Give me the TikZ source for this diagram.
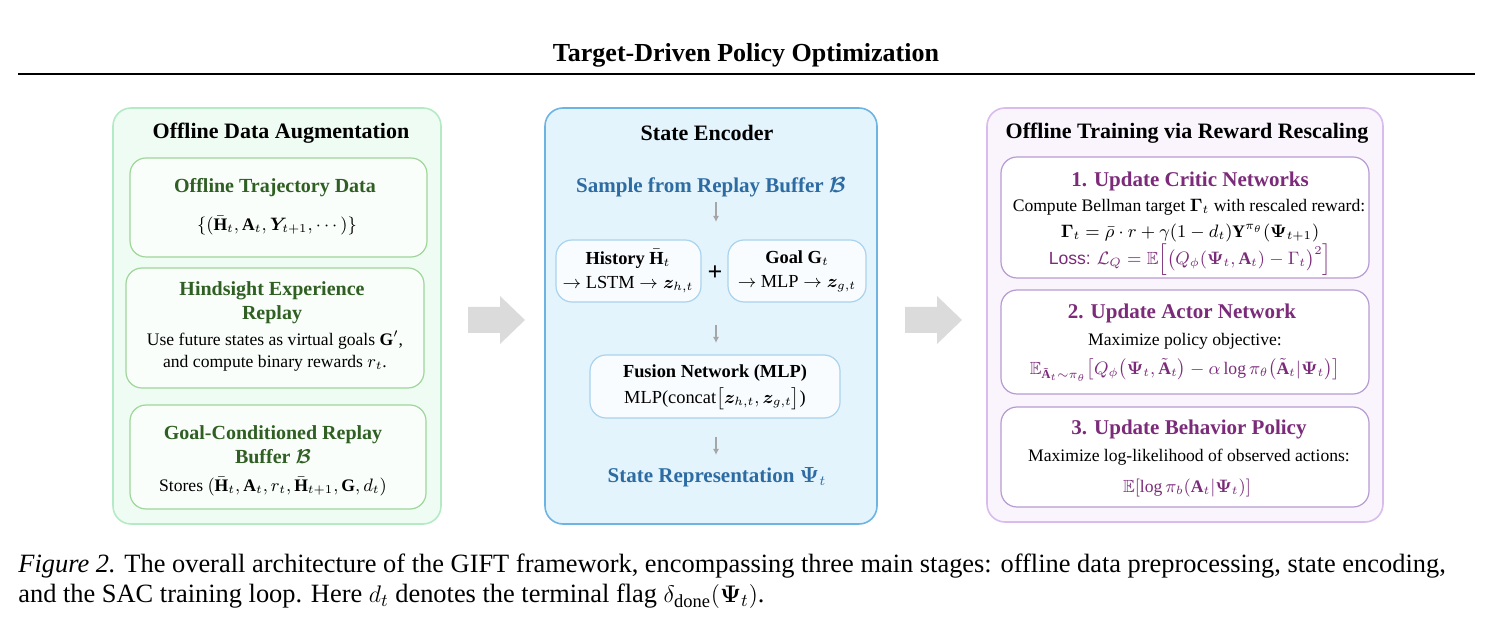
\documentclass[tikz,border=0pt]{standalone}
\usepackage{amsmath,amssymb,bm}
\usepackage{fontspec}
\setmainfont{Liberation Serif}
\newfontfamily\sansf{Liberation Sans}
\usetikzlibrary{shapes.arrows,arrows.meta}
\definecolor{gpfill}{HTML}{EFFCF3}
\definecolor{gpdraw}{HTML}{B5EAC6}
\definecolor{gbdraw}{HTML}{9FD69A}
\definecolor{gtext}{HTML}{2F5F22}
\definecolor{bpfill}{HTML}{E4F4FC}
\definecolor{bpdraw}{HTML}{6DB4E2}
\definecolor{bbdraw}{HTML}{A9D3EE}
\definecolor{btext}{HTML}{2D6BA3}
\definecolor{ppfill}{HTML}{FAF4FD}
\definecolor{ppdraw}{HTML}{D9BCEE}
\definecolor{pbdraw}{HTML}{B79BD3}
\definecolor{ptext}{HTML}{7B2B79}
\newcommand{\bH}{\bar{\mathbf{H}}}
\begin{document}
\begin{tikzpicture}[x=0.5pt,y=-0.5pt,
  panel/.style={rounded corners=9pt,line width=0.8pt},
  inbox/.style={rounded corners=8pt,line width=0.6pt},
  ptitle/.style={font=\fontsize{11}{13}\selectfont\bfseries},
  btitle/.style={font=\fontsize{10}{12}\selectfont\bfseries,align=center},
  body/.style={font=\fontsize{8.8}{11}\selectfont,align=center,inner sep=1pt},
  mbody/.style={font=\fontsize{9.2}{12}\selectfont,align=center,inner sep=1pt},
  small/.style={draw=gray!70,line width=0.9pt,-{Latex[length=3pt,width=3pt]}},
  bigarrow/.style={fill=gray!28,draw=none}]
\useasboundingbox (0,0) rectangle (1493,635);
\node[font=\fontsize{13}{15}\selectfont\bfseries] (title) at (746,55) {Target-Driven Policy Optimization};
\draw[line width=1.3pt] (18,74) -- (1475,74);
% left panel
\draw[panel,fill=gpfill,draw=gpdraw] (113,108) rectangle (441,524);
\node[ptitle] (lt) at (281,133) {Offline Data Augmentation};
\draw[inbox,fill=white!70!gpfill,draw=gbdraw] (130,158) rectangle (427,257);
\node[btitle,text=gtext] (l1t) at (275,188) {Offline Trajectory Data};
\node[body] (l1b) at (277,226) {$\{(\bH_t,\mathbf{A}_t,\bm{Y}_{t+1},\cdots)\}$};
\draw[inbox,fill=white!70!gpfill,draw=gbdraw] (126,268) rectangle (424,388);
\node[btitle,text=gtext] (l2t) at (272,303) {Hindsight Experience\\Replay};
\node[body] (l2b) at (275,351) {Use future states as virtual goals $\mathbf{G}'$,\\and compute binary rewards $r_t$.};
\draw[inbox,fill=white!70!gpfill,draw=gbdraw] (130,405) rectangle (426,509);
\node[btitle,text=gtext] (l3t) at (273,445) {Goal-Conditioned Replay\\Buffer $\bm{\mathcal{B}}$};
\node[body] (l3b) at (273,487) {Stores $(\bH_t,\mathbf{A}_t,r_t,\bH_{t+1},\mathbf{G},d_t)$};
% big arrows
\draw[bigarrow] (468,307) -- (500,307) -- (500,296) -- (525,320) -- (500,344) -- (500,333) -- (468,333) -- cycle;
\draw[bigarrow] (905,307) -- (937,307) -- (937,296) -- (962,320) -- (937,344) -- (937,333) -- (905,333) -- cycle;
% middle panel
\draw[panel,fill=bpfill,draw=bpdraw] (545,108) rectangle (877,524);
\node[ptitle] (mt) at (707,133) {State Encoder};
\node[btitle,text=btext,font=\fontsize{10.5}{12}\selectfont\bfseries] (samp) at (711,187) {Sample from Replay Buffer $\bm{\mathcal{B}}$};
\draw[inbox,fill=white!75!bpfill,draw=bbdraw] (556,240) rectangle (701,302);
\node[mbody] (hist) at (628,271) {\textbf{History} $\bar{\mathbf{H}}_t$\\$\rightarrow$ LSTM $\rightarrow \bm{z}_{h,t}$};
\node[font=\fontsize{13}{13}\selectfont\bfseries] (plus) at (715,273) {+};
\draw[inbox,fill=white!75!bpfill,draw=bbdraw] (728,240) rectangle (866,302);
\node[mbody] (goal) at (797,271) {\textbf{Goal} $\mathbf{G}_t$\\$\rightarrow$ MLP $\rightarrow \bm{z}_{g,t}$};
\draw[inbox,fill=white!75!bpfill,draw=bbdraw] (590,355) rectangle (840,418);
\node[mbody] (fus) at (715,387) {\textbf{Fusion Network (MLP)}\\[1pt]MLP(concat$\big[\bm{z}_{h,t},\bm{z}_{g,t}\big]$)};
\node[btitle,text=btext,font=\fontsize{10.5}{12}\selectfont\bfseries] (srep) at (717,477) {State Representation $\bm{\Psi}_t$};
\coordinate (s1) at (716,202); \coordinate (e1) at (716,222);
\coordinate (s2) at (716,325); \coordinate (e2) at (716,343);
\coordinate (s3) at (716,437); \coordinate (e3) at (716,455);
\draw[small] (s1) -- (e1);
\draw[small] (s2) -- (e2);
\draw[small] (s3) -- (e3);
% right panel
\draw[panel,fill=ppfill,draw=ppdraw] (987,108) rectangle (1383,522);
\node[ptitle] (rt) at (1187,133) {Offline Training via Reward Rescaling};
\draw[inbox,fill=white,draw=pbdraw] (1001,157) rectangle (1369,278);
\node[btitle,text=ptext,font=\fontsize{10.5}{12}\selectfont\bfseries] (r1t) at (1190,181) {1. Update Critic Networks};
\node[body] (r1b) at (1189,207) {Compute Bellman target $\bm{\Gamma}_t$ with rescaled reward:};
\node[body] (r1c) at (1190,233) {$\bm{\Gamma}_t=\bar{\rho}\cdot r+\gamma(1-d_t)\mathbf{Y}^{\pi_\theta}(\bm{\Psi}_{t+1})$};
\node[body,text=ptext] (r1d) at (1190,260) {{\sansf Loss:} $\mathcal{L}_Q=\mathbb{E}\Big[\big(Q_\phi(\bm{\Psi}_t,\mathbf{A}_t)-\Gamma_t\big)^2\Big]$};
\draw[inbox,fill=white,draw=pbdraw] (1001,290) rectangle (1369,394);
\node[btitle,text=ptext,font=\fontsize{10.5}{12}\selectfont\bfseries] (r2t) at (1182,313) {2. Update Actor Network};
\node[body] (r2b) at (1185,341) {Maximize policy objective:};
\node[body,text=ptext] (r2c) at (1185,370) {$\mathbb{E}_{\tilde{\mathbf{A}}_t\sim\pi_\theta}\big[Q_\phi\big(\bm{\Psi}_t,\tilde{\mathbf{A}}_t\big)-\alpha\log\pi_\theta\big(\tilde{\mathbf{A}}_t|\bm{\Psi}_t\big)\big]$};
\draw[inbox,fill=white,draw=pbdraw] (1001,407) rectangle (1369,507);
\node[btitle,text=ptext,font=\fontsize{10.5}{12}\selectfont\bfseries] (r3t) at (1189,429) {3. Update Behavior Policy};
\node[body] (r3b) at (1189,457) {Maximize log-likelihood of observed actions:};
\node[body,text=ptext] (r3c) at (1187,488) {$\mathbb{E}[\log\pi_b(\mathbf{A}_t|\bm{\Psi}_t)]$};
% caption
\node[anchor=north west,align=left,font=\fontsize{13.2}{15}\selectfont,inner sep=0pt] (cap) at (18,554) {\textit{Figure 2.} The overall architecture of the GIFT framework, encompassing three main stages: offline data preprocessing, state encoding,\\and the SAC training loop. Here $d_t$ denotes the terminal flag $\delta_{\mathrm{done}}(\bm{\Psi}_t)$.};
\end{tikzpicture}
\end{document}
